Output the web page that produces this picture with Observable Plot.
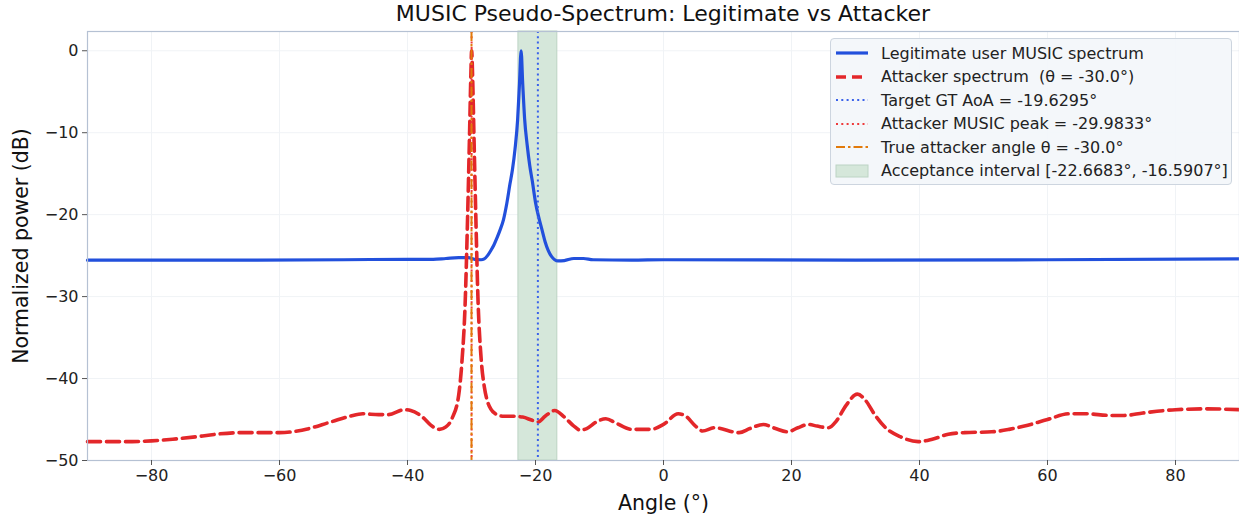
<!DOCTYPE html>
<html>
<head>
<meta charset="utf-8">
<script src="https://cdn.jsdelivr.net/npm/d3@7"></script>
<script src="https://cdn.jsdelivr.net/npm/@observablehq/plot@0.6"></script>
<style>
  html, body { margin: 0; padding: 0; background: #fff; }
  #wrap { position: relative; width: 1239px; height: 521px; font-family: "DejaVu Sans", sans-serif; overflow: hidden; }
  #title { position: absolute; left: 87px; width: 1152px; top: 0px; text-align: center; font-size: 22px; color: #111; line-height: 28px; }
  #legend { position: absolute; left: 830px; top: 38px; width: 402px; height: 147px; box-sizing: border-box;
            background: rgba(243,246,250,0.92); border: 1px solid #cdd5df; border-radius: 4px; font-size: 16px; color: #222; }
  .item { position: absolute; left: 0; height: 20px; display: flex; align-items: center; }
  .item svg { margin-left: 4px; margin-right: 12px; }
</style>
</head>
<body>
<div id="wrap">
  <div id="chart"></div>
  <div id="title">MUSIC Pseudo-Spectrum: Legitimate vs Attacker</div>
  <div id="legend"></div>
</div>
<script>
// Legitimate user MUSIC spectrum (angle °, dB)
const legitAngles = [-90,-70,-50,-40,-36,-34,-32,-30.5,-29.5,-28.5,-28,-27.5,-27,-26.5,-26,-25.5,-25,-24.5,-24,-23.6,-23.2,-22.8,-22.5,-22.25,-22.0,-21.7,-21.3,-20.9,-20.5,-20,-19.5,-19,-18.5,-18,-17.5,-17,-16.5,-15.5,-14,-12.5,-11,-5,0,30,60,90];
const legitDb     = [-25.55,-25.55,-25.5,-25.45,-25.45,-25.35,-25.25,-25.25,-25.45,-25.5,-25.4,-25.0,-24.4,-23.7,-22.8,-21.8,-20.6,-18.7,-16.3,-14.5,-12,-8.5,-4,0,-4,-8.3,-11.5,-14,-15.9,-18.5,-20.3,-21.8,-23.3,-24.4,-25.1,-25.5,-25.65,-25.6,-25.35,-25.35,-25.5,-25.55,-25.5,-25.55,-25.5,-25.4];

// Attacker spectrum (angle °, dB)
const attackAngles = [-90,-84,-80,-76.7,-73,-70,-66,-60,-56.5,-52,-49,-47,-44.5,-43,-40.5,-39.5,-37.8,-36,-35,-34,-33,-32,-31.5,-31,-30.6,-30.3,-30.1,-29.98,-29.8,-29.6,-29.3,-29,-28.5,-28,-27.5,-27,-26,-25,-23.5,-22,-20.5,-19.6,-18.5,-17,-15.5,-14,-13,-12,-10.5,-9,-7.5,-5,-2,0,2.3,3.5,5,6.1,8,11.8,13.5,15.6,17.5,19.4,21,22.6,24,25.8,27,28.5,30.3,31.5,33,34.7,37,39.8,42,44.5,47,51.3,54,56.4,60,63.4,66,69.8,72,74.9,80,85,90];
const attackDb     = [-47.7,-47.7,-47.6,-47.4,-47.1,-46.8,-46.6,-46.6,-46.3,-45.3,-44.6,-44.3,-44.4,-44.4,-43.8,-43.9,-44.6,-45.9,-46.2,-45.9,-44.8,-42,-38,-31,-20,-10,-3,0,-4,-11,-21,-30,-37.5,-41,-42.8,-43.7,-44.4,-44.6,-44.6,-44.7,-45.1,-45.3,-44.6,-43.9,-44.7,-45.8,-46.3,-46.1,-45.3,-44.9,-45.4,-46.2,-46.2,-45.6,-44.3,-44.6,-45.8,-46.4,-46.0,-46.6,-46.1,-45.6,-46.1,-46.5,-46.0,-45.6,-45.8,-46.0,-45.2,-43.3,-41.9,-42.6,-44.4,-46.0,-47.1,-47.7,-47.4,-46.8,-46.6,-46.5,-46.2,-45.8,-45,-44.3,-44.3,-44.5,-44.5,-44.2,-43.8,-43.7,-43.8];

// Reference angles
const targetGtAoA = -19.6295;
const attackerPeak = -29.9833;
const trueAttacker = -30.0;
const acceptance = [-22.6683, -16.5907];

// Tick labels
const xTicks = [-80,-60,-40,-20,0,20,40,60,80];
const yTicks = [-50,-40,-30,-20,-10,0];

const legit = legitAngles.map((a, i) => ({angle: a, db: legitDb[i]}));
const attack = attackAngles.map((a, i) => ({angle: a, db: attackDb[i]}));

const C = {
  blue: "#2250dc", red: "#e3272a", blueDot: "#3a62ea", redDot: "#ee3a3a", orange: "#e27a0a",
  band: "#d5e7da", frame: "#b5c1d3", grid: "#f0f3f6", tick: "#555"
};

const chart = Plot.plot({
  width: 1239, height: 521,
  marginTop: 31, marginBottom: 61, marginLeft: 87, marginRight: 0,
  style: {fontFamily: "DejaVu Sans, sans-serif", fontSize: "16px", color: "#222", background: "transparent"},
  x: {domain: [-90, 90]},
  y: {domain: [-50, 2.35]},
  marks: [
    Plot.gridX(xTicks, {stroke: C.grid, strokeOpacity: 1}),
    Plot.gridY(yTicks, {stroke: C.grid, strokeOpacity: 1}),
    Plot.rect([{x1: acceptance[0], x2: acceptance[1]}], {x1: "x1", x2: "x2", fill: C.band, stroke: "#bcd4c4", strokeWidth: 1}),
    Plot.line(legit, {x: "angle", y: "db", stroke: C.blue, strokeWidth: 3.2, curve: "monotone-x"}),
    Plot.line(attack, {x: "angle", y: "db", stroke: C.red, strokeWidth: 3.6, strokeDasharray: "13,6", curve: "monotone-x"}),
    Plot.ruleX([targetGtAoA], {stroke: C.blueDot, strokeWidth: 2, strokeDasharray: "2,3.3"}),
    Plot.ruleX([attackerPeak], {stroke: C.redDot, strokeWidth: 2, strokeDasharray: "2,3.3"}),
    Plot.ruleX([trueAttacker], {stroke: C.orange, strokeWidth: 2, strokeDasharray: "10,3,2.5,3"}),
    Plot.frame({stroke: C.frame, strokeWidth: 1.2}),
    Plot.axisX({ticks: xTicks, tickSize: 5, stroke: C.tick, tickPadding: 4, fontSize: 16,
      label: "Angle (°)", labelAnchor: "center", labelArrow: "none", labelOffset: 49}),
    Plot.axisY({ticks: yTicks, tickSize: 5, stroke: C.tick, tickPadding: 4, fontSize: 16,
      label: "Normalized power (dB)", labelAnchor: "center", labelArrow: "none", labelOffset: 74})
  ]
});
d3.select(chart).selectAll("[aria-label='x-axis label'] text, [aria-label='y-axis label'] text")
  .style("font-size", "20.5px").attr("fill", "#111");
document.getElementById("chart").appendChild(chart);

// Legend
const legendItems = [
  {label: "Legitimate user MUSIC spectrum", kind: "line", color: C.blue, w: 3.2, dash: null},
  {label: "Attacker spectrum  (θ = -30.0°)", kind: "line", color: C.red, w: 3.6, dash: "10,6"},
  {label: "Target GT AoA = -19.6295°", kind: "line", color: C.blueDot, w: 2, dash: "2,3.3"},
  {label: "Attacker MUSIC peak = -29.9833°", kind: "line", color: C.redDot, w: 2, dash: "2,3.3"},
  {label: "True attacker angle θ = -30.0°", kind: "line", color: C.orange, w: 2, dash: "9,3,2.5,3"},
  {label: "Acceptance interval [-22.6683°, -16.5907°]", kind: "patch", color: C.band}
];
const legend = d3.select("#legend");
legendItems.forEach((it, i) => {
  const row = legend.append("div").attr("class", "item").style("top", (4 + i * 23.5) + "px");
  const svg = row.append("svg").attr("width", 34).attr("height", 14);
  if (it.kind === "line") {
    svg.append("line").attr("x1", 1).attr("x2", 33).attr("y1", 7).attr("y2", 7)
      .attr("stroke", it.color).attr("stroke-width", it.w).attr("stroke-dasharray", it.dash);
  } else {
    svg.append("rect").attr("x", 1).attr("y", 1).attr("width", 32).attr("height", 12)
      .attr("fill", it.color).attr("stroke", "#bcd4c4");
  }
  row.append("span").text(it.label).style("white-space", "pre");
});
</script>
</body>
</html>
